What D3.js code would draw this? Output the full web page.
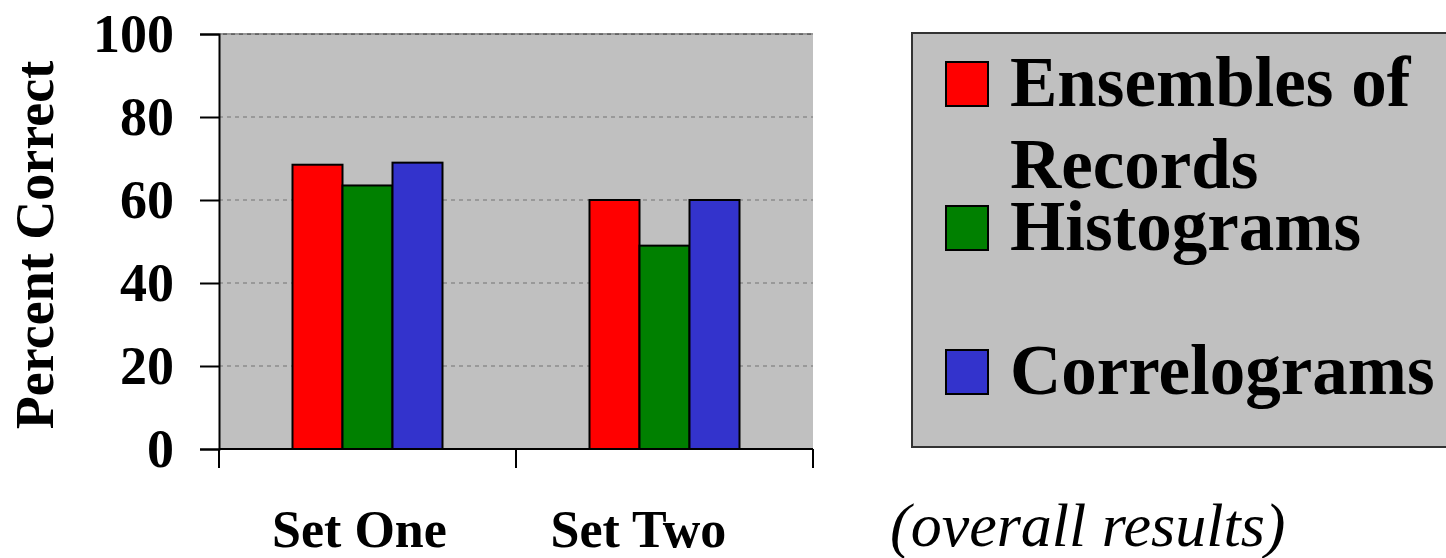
<!DOCTYPE html>
<html>
<head>
<meta charset="utf-8">
<script src="https://cdn.jsdelivr.net/npm/d3@7"></script>
<style>
  body { margin: 0; background: #fff; }
  svg { display: block; font-family: "Liberation Serif", "Times New Roman", serif; }
</style>
</head>
<body>
<script>
const categories = ['Set One', 'Set Two'];
const series = ['Ensembles of Records', 'Histograms', 'Correlograms'];
const values = [
  [68.5, 63.5, 69],   // Set One
  [60, 49, 60]        // Set Two
];
const yTicks = [0, 20, 40, 60, 80, 100];
const colors = ['#ff0000', '#008000', '#3333cc'];
const legendLines = [['Ensembles of', 'Records'], ['Histograms'], ['Correlograms']];
const labelShift = [-8, -26];

const width = 1446;
const height = 558;
const plot = { left: 219, right: 813, top: 34, bottom: 449 };

const svg = d3.select('body').append('svg')
  .attr('width', width)
  .attr('height', height);

const x = d3.scaleBand()
  .domain(categories)
  .range([plot.left, plot.right]);

const xs = d3.scaleBand()
  .domain(series)
  .range([0, x.bandwidth()])
  .paddingInner(0)
  .paddingOuter(1.47);

const y = d3.scaleLinear()
  .domain([0, 100])
  .range([plot.bottom, plot.top]);

// plot background
svg.append('rect')
  .attr('x', plot.left)
  .attr('y', plot.top)
  .attr('width', plot.right - plot.left)
  .attr('height', plot.bottom - plot.top)
  .attr('fill', '#c0c0c0');

svg.append('line')
  .attr('x1', plot.left).attr('x2', plot.right)
  .attr('y1', plot.top).attr('y2', plot.top)
  .attr('stroke', '#444')
  .attr('stroke-width', 1.5);

// gridlines
svg.append('g')
  .selectAll('line')
  .data(yTicks.filter(d => d > 0))
  .join('line')
  .attr('x1', plot.left)
  .attr('x2', plot.right)
  .attr('y1', d => y(d))
  .attr('y2', d => y(d))
  .attr('stroke', '#999')
  .attr('stroke-width', 2)
  .attr('stroke-dasharray', '4,4');

// bars
svg.append('g')
  .selectAll('g')
  .data(categories)
  .join('g')
  .attr('transform', d => `translate(${x(d)},0)`)
  .selectAll('rect')
  .data((d, i) => values[i].map((v, j) => ({ s: series[j], v, j })))
  .join('rect')
  .attr('x', d => xs(d.s))
  .attr('width', xs.bandwidth())
  .attr('y', d => y(d.v))
  .attr('height', d => y(0) - y(d.v))
  .attr('fill', d => colors[d.j])
  .attr('stroke', '#000')
  .attr('stroke-width', 2);

// y axis
const yAxis = svg.append('g')
  .attr('transform', `translate(${plot.left},0)`)
  .call(d3.axisLeft(y).tickValues(yTicks).tickSize(19).tickPadding(26));
yAxis.select('.domain').attr('stroke-width', 2);
yAxis.selectAll('.tick line').attr('stroke-width', 2);
yAxis.selectAll('.tick text')
  .attr('font-family', '"Liberation Serif", serif')
  .attr('font-size', 54)
  .attr('font-weight', 'bold')
  .attr('fill', '#000');

// x axis line and boundary ticks
svg.append('line')
  .attr('x1', plot.left).attr('x2', plot.right)
  .attr('y1', plot.bottom).attr('y2', plot.bottom)
  .attr('stroke', '#000')
  .attr('stroke-width', 2);

const bounds = categories.map(d => x(d)).concat([x(categories[categories.length - 1]) + x.bandwidth()]);
svg.append('g')
  .selectAll('line')
  .data(bounds)
  .join('line')
  .attr('x1', d => d).attr('x2', d => d)
  .attr('y1', plot.bottom).attr('y2', plot.bottom + 19)
  .attr('stroke', '#000')
  .attr('stroke-width', 2);

svg.append('g')
  .selectAll('text')
  .data(categories)
  .join('text')
  .attr('x', (d, i) => x(d) + x.bandwidth() / 2 + labelShift[i])
  .attr('y', 547)
  .attr('text-anchor', 'middle')
  .attr('font-size', 52)
  .attr('font-weight', 'bold')
  .text(d => d);

svg.append('text')
  .attr('x', 890)
  .attr('y', 546)
  .attr('font-size', 62)
  .attr('font-style', 'italic')
  .text('(overall results)');

// y label
svg.append('text')
  .attr('transform', 'translate(53,245) rotate(-90)')
  .attr('text-anchor', 'middle')
  .attr('font-size', 54)
  .attr('font-weight', 'bold')
  .text('Percent Correct');

// legend
const legend = svg.append('g');
legend.append('rect')
  .attr('x', 912)
  .attr('y', 33)
  .attr('width', 600)
  .attr('height', 414)
  .attr('fill', '#c0c0c0')
  .attr('stroke', '#333')
  .attr('stroke-width', 2);

const legendY = [106, 250, 394];
const item = legend.selectAll('g.item')
  .data(series)
  .join('g')
  .attr('class', 'item');

item.append('rect')
  .attr('x', 946)
  .attr('y', (d, i) => legendY[i] - 44)
  .attr('width', 42)
  .attr('height', 44)
  .attr('fill', (d, i) => colors[i])
  .attr('stroke', '#000')
  .attr('stroke-width', 2);

item.append('text')
  .attr('x', 1010)
  .attr('y', (d, i) => legendY[i])
  .attr('font-size', 71)
  .attr('font-weight', 'bold')
  .selectAll('tspan')
  .data((d, i) => legendLines[i])
  .join('tspan')
  .attr('x', 1010)
  .attr('dy', (d, k) => k === 0 ? 0 : 82)
  .text(d => d);
</script>
</body>
</html>
